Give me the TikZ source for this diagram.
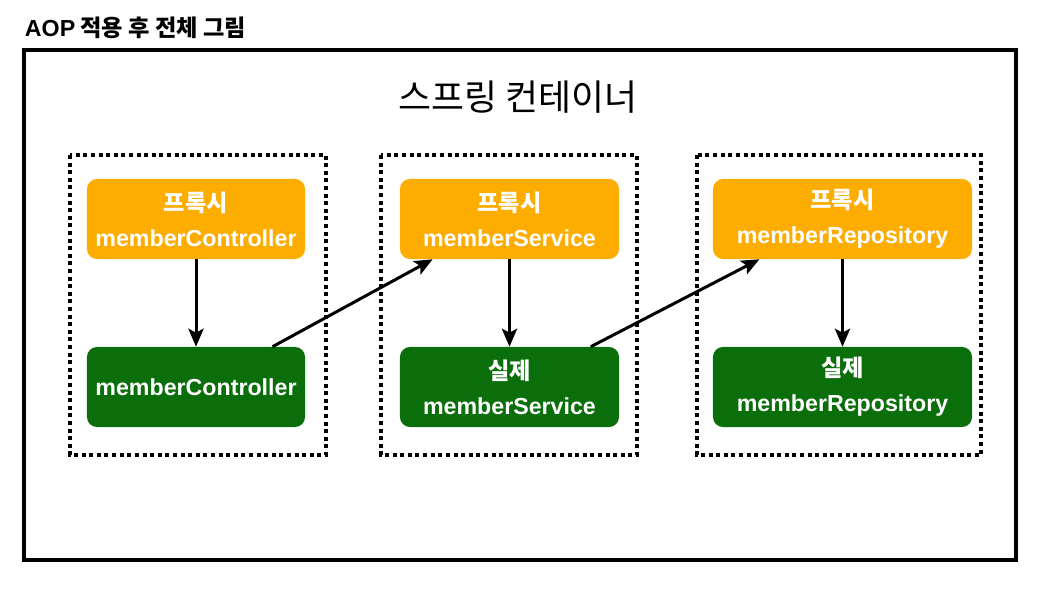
\documentclass[tikz,border=0pt]{standalone}
\usepackage{fontspec}
\setmainfont{Liberation Sans}
\newfontfamily\krfont{Noto Sans CJK KR}
\usetikzlibrary{positioning,calc,arrows.meta}
\definecolor{proxyorange}{RGB}{253,172,0}
\definecolor{realgreen}{RGB}{10,110,10}

\begin{document}
\begin{tikzpicture}[x=0.025cm,y=-0.025cm,
  proxybox/.style={fill=proxyorange,rounded corners=0.25cm,minimum height=2cm,
    text=white,align=center,inner sep=0pt,font=\bfseries\fontsize{16.5}{25}\selectfont},
  realbox/.style={proxybox,fill=realgreen},
  call/.style={-{Stealth[length=0.45cm,width=0.38cm,inset=0.1cm]},line width=0.075cm},
  group/.style={line width=0.1cm,dash pattern=on 0.1cm off 0.09cm}]
\useasboundingbox (0,0) rectangle (1054,591);

% Title and container
\node[anchor=west,font=\krfont\bfseries\fontsize{16.5}{19}\selectfont] (title) at (20,28) {{\rmfamily AOP} 적용 후 전체 그림};
\draw[line width=0.1cm] (24,50) rectangle (1016,560);
\node[font=\krfont\fontsize{25.5}{30}\selectfont] (container) at (518,97) {스프링 컨테이너};

% Dotted groups
\draw[group] (70,155) rectangle (326,455);
\draw[group] (381,155) rectangle (637,455);
\draw[group] (697,155) rectangle (981,455);

% Proxies
\node[proxybox,minimum width=5.45cm] (pc) at (196,219) {{\krfont 프록시}\\memberController};
\node[proxybox,minimum width=5.475cm] (ps) at (509.5,219) {{\krfont 프록시}\\memberService};
\node[proxybox,minimum width=6.475cm] (pr) at (842.5,219) {{\krfont 프록시}\\memberRepository};

% Real beans
\node[realbox,minimum width=5.45cm] (rc) at (196,387) {memberController};
\node[realbox,minimum width=5.475cm] (rs) at (509.5,387) {{\krfont 실제}\\memberService};
\node[realbox,minimum width=6.475cm] (rr) at (842.5,387) {{\krfont 실제}\\memberRepository};

% Calls
\draw[call] (pc) -- (rc);
\draw[call] (ps) -- (rs);
\draw[call] (pr) -- (rr);
\draw[call] ($(rc.north west)!0.85!(rc.north east)$) -- ($(ps.south west)!0.15!(ps.south east)$);
\draw[call] ($(rs.north west)!0.87!(rs.north east)$) -- ($(pr.south west)!0.18!(pr.south east)$);
\end{tikzpicture}
\end{document}
